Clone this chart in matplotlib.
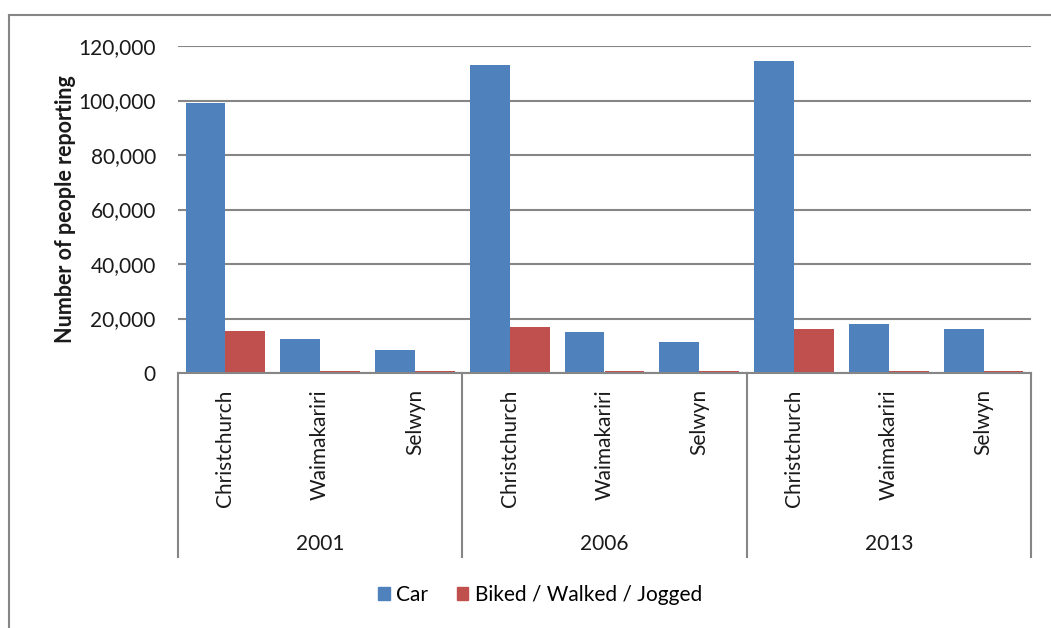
import matplotlib
matplotlib.use("Agg")
import matplotlib.pyplot as plt
from matplotlib.lines import Line2D
from matplotlib.patches import Patch
from matplotlib.ticker import FuncFormatter, MultipleLocator

# Commuters by travel mode, per district and census year
years = ["2001", "2006", "2013"]
districts = ["Christchurch", "Waimakariri", "Selwyn"]
car = [99000, 12300, 8600,
       113200, 15000, 11500,
       114500, 18000, 16200]
active = [15300, 700, 900,
          17000, 700, 900,
          16200, 700, 900]

CAR_COLOR = "#4f81bd"
ACTIVE_COLOR = "#c0504d"
LINE_COLOR = "#868686"
TEXT_COLOR = "#1a1a1a"

plt.rcParams["font.family"] = ["Lato", "DejaVu Sans"]

fig = plt.figure(figsize=(10.51, 6.28), dpi=100)
W, H = 1051, 628
ax = fig.add_axes([178 / W, 1 - 373 / H, (1031 - 178) / W, (373 - 46) / H])

n = len(car)
xs = list(range(n))
bw = 0.42
ax.bar([x - bw / 2 for x in xs], car, width=bw, color=CAR_COLOR, zorder=3)
ax.bar([x + bw / 2 for x in xs], active, width=bw, color=ACTIVE_COLOR, zorder=3)

ax.set_xlim(-0.5, n - 0.5)
ax.set_ylim(0, 120000)
ax.yaxis.set_major_locator(MultipleLocator(20000))
ax.yaxis.set_major_formatter(FuncFormatter(lambda v, p: f"{int(v):,}"))
ax.grid(axis="y", color=LINE_COLOR, linewidth=1.5, zorder=0)
ax.set_axisbelow(True)
for s in ["top", "right", "left"]:
    ax.spines[s].set_visible(False)
ax.spines["bottom"].set_color(LINE_COLOR)
ax.spines["bottom"].set_linewidth(1.5)
ax.spines["bottom"].set_zorder(4)
ax.tick_params(axis="y", length=0, labelsize=15, pad=16, colors=TEXT_COLOR)
ax.set_xticks([])
ax.set_ylabel("Number of people reporting", fontsize=15.5, fontweight="bold",
              labelpad=2, color=TEXT_COLOR)

# two-level category axis below the plot
trans = ax.get_xaxis_transform()
group_len = len(districts)
for g in range(len(years) + 1):
    xb = g * group_len - 0.5
    ax.plot([xb, xb], [0, -0.563], transform=trans, color=LINE_COLOR,
            linewidth=1.5, clip_on=False)
for i, x in enumerate(xs):
    ax.text(x, -0.05, districts[i % group_len], transform=trans, rotation=90,
            ha="center", va="top", fontsize=15, color=TEXT_COLOR)
for g, yr in enumerate(years):
    xc = g * group_len + (group_len - 1) / 2
    ax.text(xc, -0.524, yr, transform=trans, ha="center", va="center",
            fontsize=15, color=TEXT_COLOR)

# chart frame (top and left edges)
fig.add_artist(Line2D([9 / W, 1], [1 - 15 / H, 1 - 15 / H], color=LINE_COLOR,
                      linewidth=1.5))
fig.add_artist(Line2D([9 / W, 9 / W], [0, 1 - 15 / H], color=LINE_COLOR,
                      linewidth=1.5))

handles = [Patch(color=CAR_COLOR, label="Car"),
           Patch(color=ACTIVE_COLOR, label="Biked / Walked / Jogged")]
fig.legend(handles=handles, loc="center", bbox_to_anchor=(540 / W, 1 - 595 / H),
           ncol=2, frameon=False, fontsize=15, handlelength=0.55,
           handleheight=0.55, handletextpad=0.3, columnspacing=1.4)

fig.savefig("out.png", dpi=100)
